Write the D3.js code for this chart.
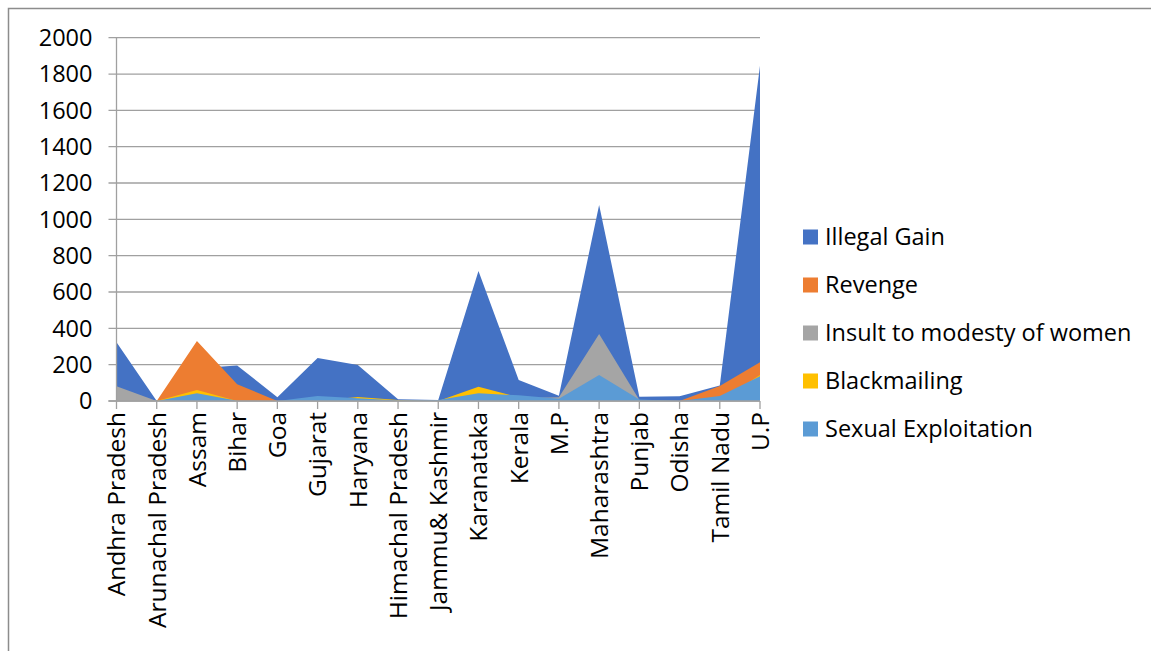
<!DOCTYPE html>
<html>
<head>
<meta charset="utf-8">
<script src="https://cdn.jsdelivr.net/npm/d3@7"></script>
<style>
  body { margin: 0; background: #fff; }
  text { font-family: "Open Sans", sans-serif; fill: #000; }
</style>
</head>
<body>
<div id="chart"></div>
<script>
// states on the x axis
var states = ["Andhra Pradesh", "Arunachal Pradesh", "Assam", "Bihar", "Goa", "Gujarat",
  "Haryana", "Himachal Pradesh", "Jammu& Kashmir", "Karanataka", "Kerala", "M.P",
  "Maharashtra", "Punjab", "Odisha", "Tamil Nadu", "U.P"];

// one value per state (series overlap, not stacked)
var illegalGain   = [323, 0, 180, 196, 21, 237, 198, 10, 5, 716, 116, 29, 1079, 24, 26, 85, 1846];
var revenge       = [0, 0, 330, 92, 0, 0, 0, 0, 0, 0, 0, 0, 0, 0, 0, 83, 213];
var insult        = [81, 0, 0, 0, 0, 0, 0, 0, 0, 0, 15, 20, 369, 5, 0, 0, 0];
var blackmailing  = [0, 0, 60, 0, 0, 0, 22, 6, 0, 79, 20, 0, 0, 0, 0, 0, 143];
var sexualExploit = [0, 0, 42, 2, 0, 27, 15, 3, 5, 42, 31, 12, 143, 8, 0, 27, 136];

var seriesNames = ["Illegal Gain", "Revenge", "Insult to modesty of women", "Blackmailing", "Sexual Exploitation"];
var seriesValues = [illegalGain, revenge, insult, blackmailing, sexualExploit];
var colors = ["#4472c4", "#ed7d31", "#a5a5a5", "#ffc000", "#5b9bd5"];

var yTicks = [0, 200, 400, 600, 800, 1000, 1200, 1400, 1600, 1800, 2000];

var W = 1151, H = 651;
var margin = {top: 37.7, left: 116.5};
var plotW = 760 - 116.5, plotH = 401 - 37.7;

var svg = d3.select("#chart").append("svg")
  .attr("width", W).attr("height", H);

// outer chart frame (cropped in the picture)
svg.append("path")
  .attr("d", "M8.5," + H + "V8.5H" + W)
  .attr("fill", "none").attr("stroke", "#8c8c8c").attr("stroke-width", 1.5);

var g = svg.append("g").attr("transform", "translate(" + margin.left + "," + margin.top + ")");

var x = d3.scalePoint().domain(states).range([0, plotW]);
var y = d3.scaleLinear().domain([0, 2000]).range([plotH, 0]);

// gridlines
g.selectAll(".grid").data(yTicks).enter().append("line")
  .attr("x1", -8).attr("x2", plotW)
  .attr("y1", d => y(d)).attr("y2", d => y(d))
  .attr("stroke", "#a0a0a0").attr("stroke-width", 1.3);

// y labels
g.selectAll(".ylab").data(yTicks).enter().append("text")
  .attr("x", -24).attr("y", d => y(d)).attr("dy", "0.36em")
  .attr("text-anchor", "end").style("font-size", "23.5px")
  .text(d => d);

// areas, first series at the back
var area = d3.area()
  .x((d, i) => x(states[i]))
  .y0(y(0))
  .y1(d => y(d));

g.selectAll(".area").data(seriesValues).enter().append("path")
  .attr("d", d => area(d))
  .attr("fill", (d, i) => colors[i]);

// y axis line
g.append("line")
  .attr("x1", 0).attr("x2", 0).attr("y1", 0).attr("y2", plotH)
  .attr("stroke", "#a0a0a0").attr("stroke-width", 1.3);

// x axis line + ticks
g.append("line")
  .attr("x1", -8).attr("x2", plotW).attr("y1", plotH).attr("y2", plotH)
  .attr("stroke", "#a0a0a0").attr("stroke-width", 1.3);
g.selectAll(".xtick").data(states).enter().append("line")
  .attr("x1", d => x(d)).attr("x2", d => x(d))
  .attr("y1", plotH).attr("y2", plotH + 8)
  .attr("stroke", "#a0a0a0").attr("stroke-width", 1.3);

// x labels, rotated
g.selectAll(".xlab").data(states).enter().append("text")
  .attr("transform", d => "translate(" + x(d) + "," + (plotH + 11) + ") rotate(-90)")
  .attr("dy", "0.36em")
  .attr("text-anchor", "end").style("font-size", "24.5px")
  .text(d => d);

// legend
var legend = svg.selectAll(".legend").data(seriesNames).enter().append("g")
  .attr("transform", (d, i) => "translate(803," + (237 + i * 48) + ")");
legend.append("rect")
  .attr("x", 0).attr("y", -7.5).attr("width", 15).attr("height", 15)
  .attr("fill", (d, i) => colors[i]);
legend.append("text")
  .attr("x", 22).attr("dy", "0.36em")
  .style("font-size", "23.5px")
  .text(d => d);
</script>
</body>
</html>
